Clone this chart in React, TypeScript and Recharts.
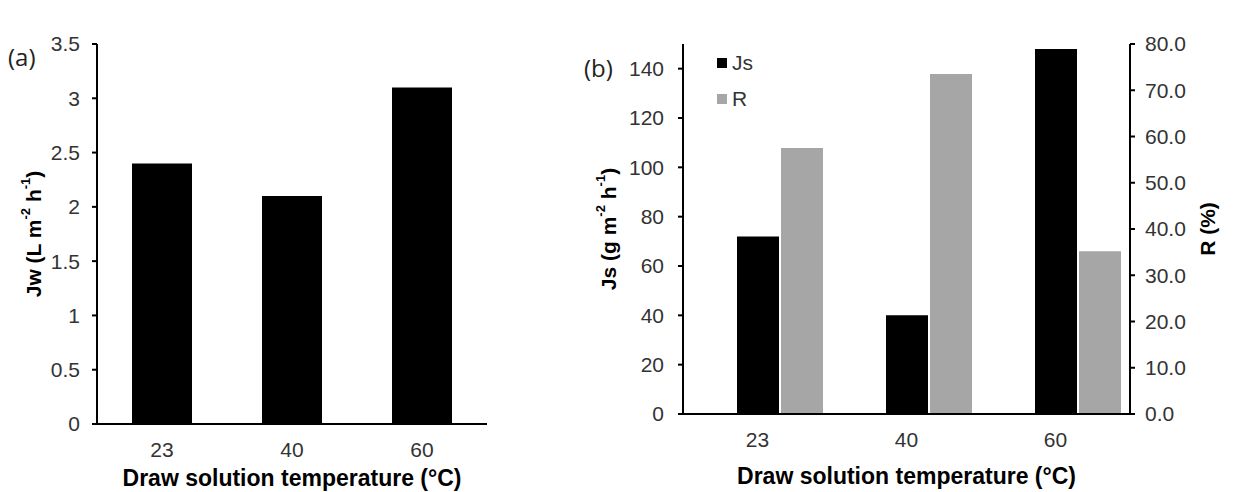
import React from "react";
import { BarChart, Bar, XAxis, YAxis, Legend } from "recharts";

const categories = ["23", "40", "60"];
const jwValues = [2.4, 2.1, 3.1];
const jsValues = [72, 40, 148];
const rValues = [57.5, 73.5, 35.2];
const jwTicks = [0, 0.5, 1, 1.5, 2, 2.5, 3, 3.5];
const jsTicks = [0, 20, 40, 60, 80, 100, 120, 140];
const rTicks = [0, 10, 20, 30, 40, 50, 60, 70, 80];

const dataA = categories.map((c, i) => ({ temp: c, Jw: jwValues[i] }));
const dataB = categories.map((c, i) => ({ temp: c, Js: jsValues[i], R: rValues[i] }));

const FONT = '"Liberation Sans", Arial, sans-serif';
const tickStyle = { fill: "#333", fontSize: 21, fontFamily: FONT };

function YTitle(props: any) {
  const { viewBox, cx, children } = props;
  const x = viewBox.x + cx;
  const y = viewBox.y + viewBox.height / 2;
  return (
    <text
      x={x}
      y={y}
      transform={`rotate(-90, ${x}, ${y})`}
      textAnchor="middle"
      dominantBaseline="central"
      fontFamily={FONT}
      fontWeight="bold"
      fontSize={21}
      fill="#000"
    >
      {children}
    </text>
  );
}

function XTitle(props: any) {
  const { viewBox, dy } = props;
  return (
    <text
      x={viewBox.x + viewBox.width / 2}
      y={viewBox.y + dy}
      textAnchor="middle"
      fontFamily={FONT}
      fontWeight="bold"
      fontSize={23}
      fill="#000"
    >
      Draw solution temperature (°C)
    </text>
  );
}

const sup = (s: string) => [
  <tspan key="s" dy={-8} fontSize={13}>{s}</tspan>,
];

function LegendBox(props: any) {
  const items = (props.payload || []).filter((p: any) => p.type !== "none");
  return (
    <div style={{ fontFamily: FONT, fontSize: 21, color: "#333", textAlign: "left" }}>
      {items.map((p: any) => (
        <div key={p.value} style={{ display: "flex", alignItems: "center", height: 36 }}>
          <span style={{ width: 10, height: 10, background: p.color, marginRight: 5 }} />
          {p.value}
        </div>
      ))}
    </div>
  );
}

export default function App() {
  return (
    <div style={{ position: "absolute", left: 0, top: 0, width: 1233, height: 492, background: "#fff", overflow: "hidden" }}>
      <div style={{ position: "absolute", left: 8, top: 40, fontFamily: '"Open Sans", sans-serif', fontSize: 24, color: "#222" }}>(a)</div>
      <div style={{ position: "absolute", left: 584, top: 51, fontFamily: '"Open Sans", sans-serif', fontSize: 24, color: "#222" }}>(b)</div>

      <div style={{ position: "absolute", left: 0, top: 0 }}>
        <BarChart width={500} height={492} data={dataA} margin={{ top: 44, right: 13, left: 0, bottom: 0 }}>
          <XAxis
            dataKey="temp"
            height={68}
            axisLine={{ stroke: "#000", strokeWidth: 2 }}
            tickLine={false}
            tick={tickStyle}
            tickMargin={12}
            label={<XTitle dy={62} />}
          />
          <YAxis
            width={97}
            domain={[0, 3.5]}
            ticks={jwTicks}
            axisLine={{ stroke: "#000", strokeWidth: 2 }}
            tickLine={{ stroke: "#000", strokeWidth: 2 }}
            tickSize={5}
            tickMargin={12}
            tick={tickStyle}
            label={
              <YTitle cx={33}>
                Jw (L m{sup("-2")}<tspan dy={8}> h</tspan>{sup("-1")}<tspan dy={8}>)</tspan>
              </YTitle>
            }
          />
          <Bar dataKey="Jw" fill="#000" barSize={60} isAnimationActive={false} />
        </BarChart>
      </div>

      <div style={{ position: "absolute", left: 560, top: 0 }}>
        <BarChart width={673} height={492} data={dataB} margin={{ top: 44, right: 0, left: 0, bottom: 0 }} barGap={2}>
          <XAxis
            dataKey="temp"
            height={78}
            axisLine={{ stroke: "#000", strokeWidth: 2 }}
            tickLine={false}
            tick={tickStyle}
            tickMargin={12}
            label={<XTitle dy={70} />}
          />
          <YAxis
            yAxisId="left"
            width={123}
            domain={[0, 150]}
            ticks={jsTicks}
            axisLine={{ stroke: "#000", strokeWidth: 2 }}
            tickLine={{ stroke: "#000", strokeWidth: 2 }}
            tickSize={5}
            tickMargin={14}
            tick={tickStyle}
            label={
              <YTitle cx={48}>
                Js (g m{sup("-2")}<tspan dy={8}> h</tspan>{sup("-1")}<tspan dy={8}>)</tspan>
              </YTitle>
            }
          />
          <YAxis
            yAxisId="right"
            orientation="right"
            width={103}
            domain={[0, 80]}
            ticks={rTicks}
            tickFormatter={(v: number) => v.toFixed(1)}
            axisLine={{ stroke: "#000", strokeWidth: 2 }}
            tickLine={{ stroke: "#000", strokeWidth: 2 }}
            tickSize={5}
            tickMargin={10}
            tick={tickStyle}
            label={<YTitle cx={77}>R (%)</YTitle>}
          />
          <Legend
            verticalAlign="middle"
            align="center"
            layout="vertical"
            wrapperStyle={{ left: 157, top: 45, width: 80 }}
            content={<LegendBox />}
          />
          <Bar yAxisId="left" dataKey="spacer" legendType="none" fill="none" barSize={42} isAnimationActive={false} />
          <Bar yAxisId="left" dataKey="Js" name="Js" fill="#000" barSize={42} isAnimationActive={false} />
          <Bar yAxisId="right" dataKey="R" name="R" fill="#A6A6A6" barSize={42} isAnimationActive={false} />
        </BarChart>
      </div>
    </div>
  );
}
